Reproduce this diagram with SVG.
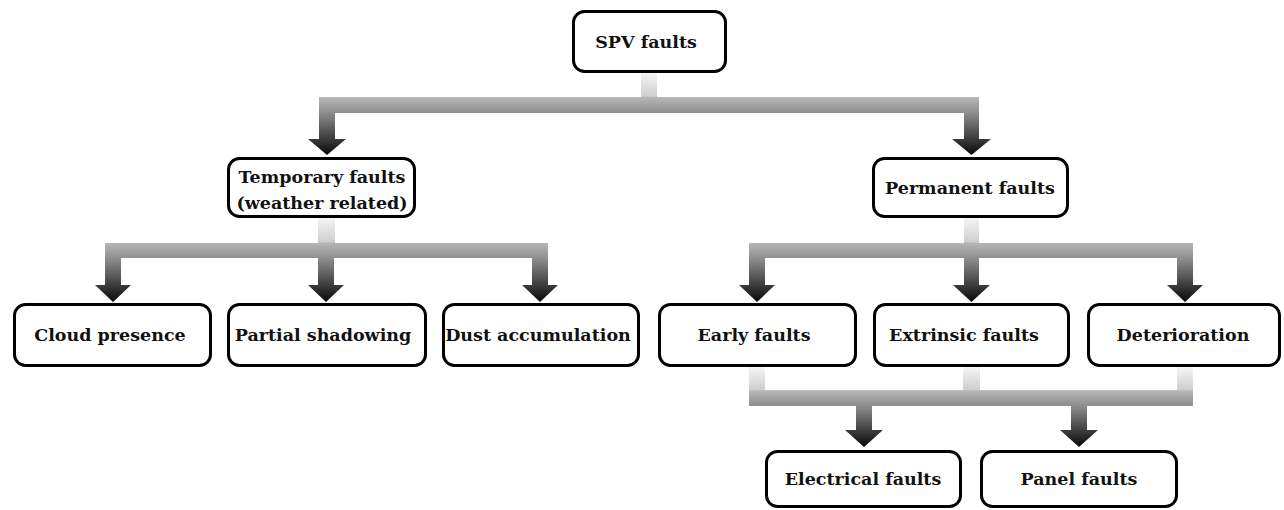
<svg xmlns="http://www.w3.org/2000/svg" width="1284" height="510" viewBox="0 0 1284 510">
<defs>
<linearGradient id="g" x1="0" y1="0" x2="0" y2="1">
<stop offset="0" stop-color="#f5f5f5"/>
<stop offset="0.28" stop-color="#cfcfcf"/>
<stop offset="0.30" stop-color="#b6b6b6"/>
<stop offset="0.50" stop-color="#8a8a8a"/>
<stop offset="0.80" stop-color="#3c3c3c"/>
<stop offset="1" stop-color="#080808"/>
</linearGradient>
<style>
.box{fill:#fff;stroke:#000;stroke-width:3}
.t{font-family:"DejaVu Serif","Liberation Serif",serif;font-weight:bold;font-size:17.5px;fill:#111;text-anchor:middle}
.c{fill:url(#g)}
</style>
</defs>
<g id="connectors">
<path class="c" d="M641,73 H657 V97 H979 V139 H991 L971.5,155 L952,139 H964 V113 H335 V139 H346 L327,155 L308,139 H319 V97 H641 Z"/>
<path class="c" d="M318,218 H335 V243 H548 V285 H558 L540,302 L522,285 H532 V258 H334 V285 H344 L326,302 L308,285 H318 V258 H121 V285 H131 L113,302 L95,285 H105 V243 H318 Z"/>
<path class="c" d="M964,218 H979 V243 H1193 V285 H1203 L1185,302 L1167,285 H1177 V258 H979 V285 H990 L971.5,302 L953,285 H964 V258 H765 V285 H775 L757,302 L739,285 H749 V243 H964 Z"/>
<path class="c" d="M749,367 H765 V390 H963 V367 H980 V390 H1177 V367 H1193 V406 H1087 V430 H1098 L1079,447 L1060,430 H1071 V406 H872 V430 H883 L864,447 L845,430 H856 V406 H749 Z"/>
</g>
<g id="spv"><rect class="box" x="573.5" y="11.5" width="152" height="60" rx="11"/><text class="t" x="646" y="48">SPV faults</text></g>
<g id="temporary"><rect class="box" x="228.5" y="158.5" width="186" height="58" rx="11"/><text class="t" x="322" y="183">Temporary faults</text><text class="t" x="322" y="209">(weather related)</text></g>
<g id="permanent"><rect class="box" x="873.5" y="158.5" width="194" height="58" rx="11"/><text class="t" x="970" y="194">Permanent faults</text></g>
<g id="cloud"><rect class="box" x="14.5" y="304.5" width="196" height="61" rx="11"/><text class="t" x="110" y="341">Cloud presence</text></g>
<g id="partial"><rect class="box" x="228.5" y="304.5" width="197" height="61" rx="11"/><text class="t" x="323" y="341">Partial shadowing</text></g>
<g id="dust"><rect class="box" x="443.5" y="304.5" width="195" height="61" rx="11"/><text class="t" x="538" y="341">Dust accumulation</text></g>
<g id="early"><rect class="box" x="659.5" y="304.5" width="196" height="61" rx="11"/><text class="t" x="754" y="341">Early faults</text></g>
<g id="extrinsic"><rect class="box" x="874.5" y="304.5" width="194" height="61" rx="11"/><text class="t" x="964" y="341">Extrinsic faults</text></g>
<g id="deterioration"><rect class="box" x="1088.5" y="304.5" width="191" height="61" rx="11"/><text class="t" x="1183" y="341">Deterioration</text></g>
<g id="electrical"><rect class="box" x="766.5" y="451.5" width="194" height="55" rx="11"/><text class="t" x="863" y="485">Electrical faults</text></g>
<g id="panel"><rect class="box" x="981.5" y="451.5" width="195" height="55" rx="11"/><text class="t" x="1079" y="485">Panel faults</text></g>
</svg>
